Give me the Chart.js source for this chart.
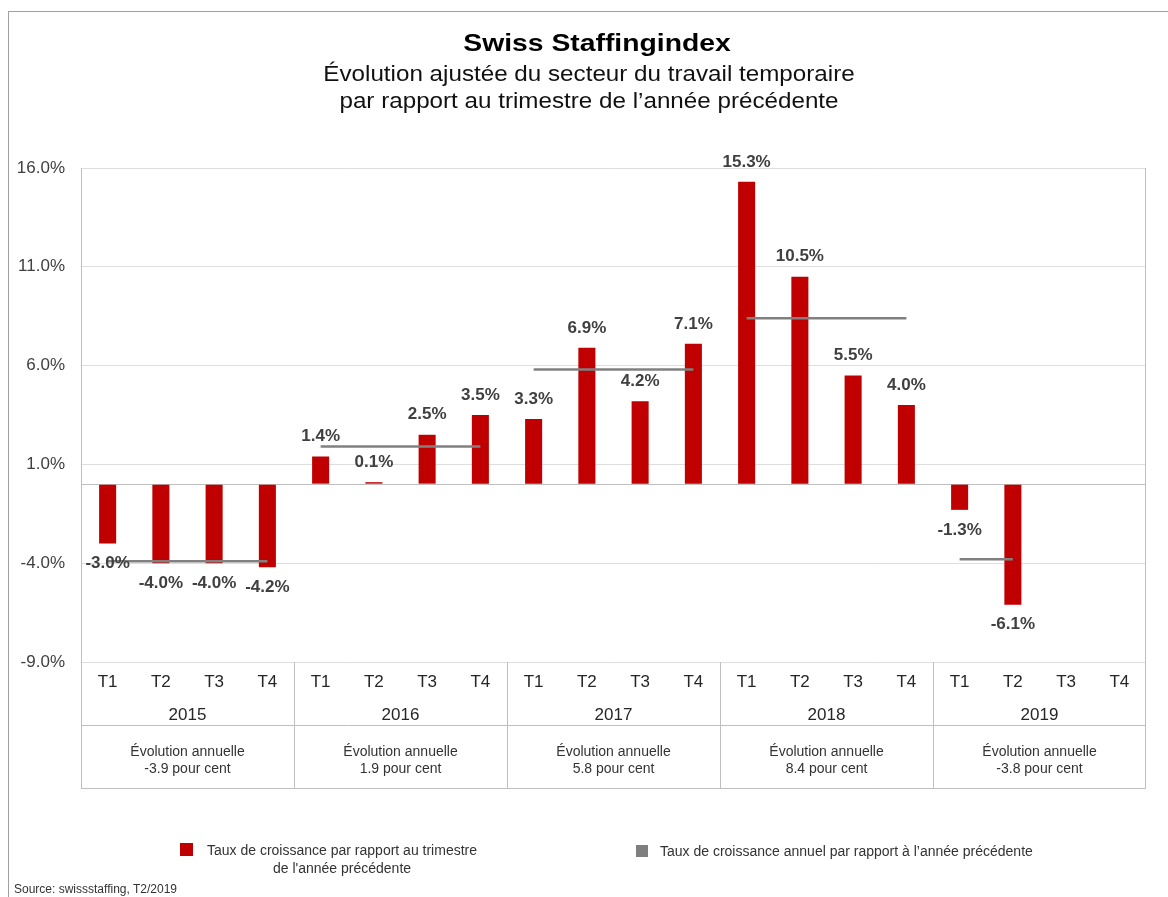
<!DOCTYPE html>
<html>
<head>
<meta charset="utf-8">
<script src="https://cdn.jsdelivr.net/npm/chart.js@4.4.1/dist/chart.umd.min.js"></script>
<style>
  body { margin: 0; background: #fff; font-family: "Liberation Sans", Arial, sans-serif; color: #262626; }
  #wrap { position: relative; width: 1168px; height: 897px; overflow: hidden; }
  #frame { position: absolute; left: 8px; top: 11px; width: 1200px; height: 1000px;
           border-left: 1px solid #a0a0a0; border-top: 1px solid #a0a0a0; }
  canvas { position: absolute; left: 0; top: 0; }
  .t { position: absolute; white-space: nowrap; line-height: 1; }
  .c { transform: translate(-50%, -50%); }
  .sq { position: absolute; }
</style>
</head>
<body>
<div id="wrap">
  <div id="frame"></div>
  <canvas id="staffing" width="1168" height="897"></canvas>

  <div class="t" style="left:597px; top:43px; font-size:24px; font-weight:bold; color:#000; transform:translate(-50%,-50%) scaleX(1.18);">Swiss Staffingindex</div>
  <div class="t" style="left:589px; top:74px; font-size:22px; color:#111; transform:translate(-50%,-50%) scaleX(1.1);">Évolution ajustée du secteur du travail temporaire</div>
  <div class="t" style="left:589px; top:101px; font-size:22px; color:#111; transform:translate(-50%,-50%) scaleX(1.1);">par rapport au trimestre de l’année précédente</div>

  <div class="sq" style="left:180px; top:843px; width:13px; height:13px; background:#c00000;"></div>
  <div class="t" style="left:207px; top:841px; font-size:14px; line-height:18px; text-align:center; color:#333;">Taux de croissance par rapport au trimestre<br>de l'année précédente</div>
  <div class="sq" style="left:636px; top:845px; width:12px; height:12px; background:#7f7f7f;"></div>
  <div class="t" style="left:660px; top:844px; font-size:14px; color:#333;">Taux de croissance annuel par rapport à l’année précédente</div>

  <div class="t" style="left:14px; top:883px; font-size:12px; color:#333;">Source: swissstaffing, T2/2019</div>
</div>

<script>
// data
const quarters = ['T1','T2','T3','T4','T1','T2','T3','T4','T1','T2','T3','T4','T1','T2','T3','T4','T1','T2','T3','T4'];
const years = ['2015','2016','2017','2018','2019'];
const quarterly = [-3.0, -4.0, -4.0, -4.2,  1.4, 0.1, 2.5, 3.5,  3.3, 6.9, 4.2, 7.1,  15.3, 10.5, 5.5, 4.0,  -1.3, -6.1, null, null];
const annual = [-3.9, 1.9, 5.8, 8.4, -3.8];
const annualText = ['-3.9 pour cent', '1.9 pour cent', '5.8 pour cent', '8.4 pour cent', '-3.8 pour cent'];
const yTicks = [-9, -4, 0, 1, 6, 11, 16];

const TABLE_LINE = 725, TABLE_BOTTOM = 788;

// one short grey line per year, over the quarters that have a value
const annualSets = years.map((y, i) => ({
  type: 'line',
  label: 'annuel ' + y,
  data: quarterly.map((v, j) => (Math.floor(j / 4) === i && v !== null) ? annual[i] : null),
  borderColor: '#808080',
  borderWidth: 2.5,
  pointRadius: 0,
  fill: false,
  spanGaps: false,
  order: 1
}));

const valueLabels = {
  id: 'valueLabels',
  afterDatasetsDraw(chart) {
    const ctx = chart.ctx;
    const meta = chart.getDatasetMeta(0);
    ctx.save();
    ctx.font = 'bold 17px "Liberation Sans", Arial, sans-serif';
    ctx.fillStyle = '#404040';
    ctx.textAlign = 'center';
    ctx.textBaseline = 'middle';
    meta.data.forEach((bar, j) => {
      const v = quarterly[j];
      if (v === null) return;
      const y = v >= 0 ? bar.y - 20 : bar.y + 20;
      ctx.fillText(v.toFixed(1) + '%', bar.x, y);
    });
    ctx.restore();
  }
};

const yearTable = {
  id: 'yearTable',
  afterDraw(chart) {
    const ctx = chart.ctx;
    const a = chart.chartArea;
    const xs = chart.scales.x;
    ctx.save();
    ctx.strokeStyle = '#bfbfbf';
    ctx.lineWidth = 1;
    ctx.beginPath();
    ctx.moveTo(a.left + 0.5, a.top); ctx.lineTo(a.left + 0.5, TABLE_BOTTOM);
    ctx.moveTo(a.right - 0.5, a.top); ctx.lineTo(a.right - 0.5, TABLE_BOTTOM);
    ctx.moveTo(a.left, TABLE_LINE + 0.5); ctx.lineTo(a.right, TABLE_LINE + 0.5);
    ctx.moveTo(a.left, TABLE_BOTTOM + 0.5); ctx.lineTo(a.right, TABLE_BOTTOM + 0.5);
    for (let i = 1; i < years.length; i++) {
      const x = Math.round((xs.getPixelForValue(4 * i - 1) + xs.getPixelForValue(4 * i)) / 2) + 0.5;
      ctx.moveTo(x, a.bottom); ctx.lineTo(x, TABLE_BOTTOM);
    }
    ctx.stroke();

    ctx.textAlign = 'center';
    ctx.textBaseline = 'middle';
    years.forEach((y, i) => {
      const cx = (xs.getPixelForValue(4 * i) + xs.getPixelForValue(4 * i + 3)) / 2;
      ctx.fillStyle = '#262626';
      ctx.font = '17px "Liberation Sans", Arial, sans-serif';
      ctx.fillText(y, cx, 715);
      ctx.fillStyle = '#333';
      ctx.font = '14px "Liberation Sans", Arial, sans-serif';
      ctx.fillText('Évolution annuelle', cx, 752);
      ctx.fillText(annualText[i], cx, 769);
    });
    ctx.restore();
  }
};

new Chart(document.getElementById('staffing'), {
  type: 'bar',
  data: {
    labels: quarters,
    datasets: [{
      label: 'Taux de croissance par rapport au trimestre de l\'année précédente',
      data: quarterly,
      backgroundColor: '#c00000',
      borderWidth: 0,
      barPercentage: 0.32,
      categoryPercentage: 1,
      order: 2
    }, ...annualSets]
  },
  options: {
    responsive: false,
    animation: false,
    devicePixelRatio: 1,
    layout: { padding: { left: 0, right: 22, top: 168, bottom: 172 } },
    plugins: { legend: { display: false }, tooltip: { enabled: false } },
    scales: {
      x: {
        offset: true,
        grid: { display: false, drawTicks: false },
        border: { display: false },
        afterFit: s => { s.height = 63; },
        ticks: { padding: 10, color: '#262626', font: { size: 17, family: '"Liberation Sans", Arial, sans-serif' }, maxRotation: 0, autoSkip: false }
      },
      y: {
        min: -9,
        max: 16,
        afterBuildTicks: s => { s.ticks = yTicks.map(v => ({ value: v })); },
        afterFit: s => { s.width = 81; },
        border: { display: false },
        grid: {
          drawTicks: false,
          color: c => (c.tick && c.tick.value === 0) ? '#bfbfbf' : '#dedede'
        },
        ticks: {
          autoSkip: false,
          padding: 16,
          color: '#404040',
          font: { size: 17, family: '"Liberation Sans", Arial, sans-serif' },
          callback: v => v === 0 ? '' : v.toFixed(1) + '%'
        }
      }
    }
  },
  plugins: [valueLabels, yearTable]
});
</script>
</body>
</html>
